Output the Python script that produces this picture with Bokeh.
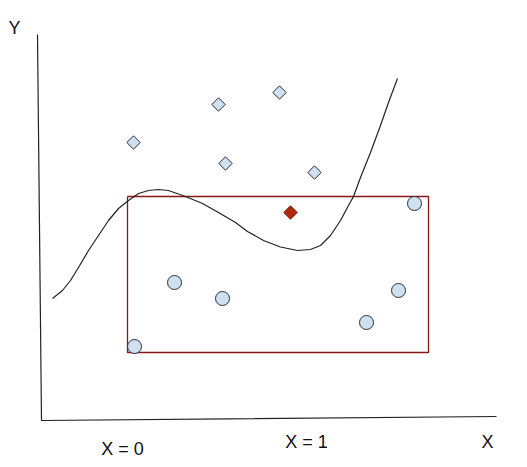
from bokeh.plotting import figure
from bokeh.models import Range1d
from bokeh.core.properties import value
from bokeh.embed import file_html
from bokeh.resources import INLINE
import math

# Diagram coordinates (y grows downward, as in the picture)
axis_x = [37, 41, 496]
axis_y = [34, 420, 416]

diamond_x = [133, 218, 279, 225, 314]
diamond_y = [142, 104, 92, 163, 172]

red_diamond_x = [290]
red_diamond_y = [212]

circle_x = [134, 174, 222, 366, 398, 414]
circle_y = [346, 282, 298, 322, 290, 203]

rect_left, rect_right, rect_top, rect_bottom = 127, 428, 196, 352

curve_x = [52, 62, 70, 78, 88, 98, 108, 118, 128, 138, 148, 158, 168, 185, 202, 218,
           235, 247, 263, 280, 297, 310, 320, 330, 340, 348, 353, 360, 370, 380, 388, 397]
curve_y = [298, 290, 280, 267, 250, 235, 220, 208, 200, 193, 190, 189, 190, 196, 203, 212,
           222, 231, 240, 246.5, 250, 249, 245, 235, 220, 205, 196, 177, 152, 125, 102, 78]

label_text = ["Y", "X = 0", "X = 1", "X"]
label_x = [14, 122, 306, 487]
label_y = [27, 448, 441, 441]

p = figure(width=511, height=458, output_backend="svg", toolbar_location=None,
           x_range=Range1d(0, 511), y_range=Range1d(458, 0),
           x_axis_type=None, y_axis_type=None, min_border=0,
           outline_line_color=None, background_fill_color="white")
p.grid.visible = False

# axes
p.line(axis_x, axis_y, line_color="#222222", line_width=1.2)

# rectangle
p.line([rect_left, rect_right, rect_right, rect_left, rect_left],
       [rect_top, rect_top, rect_bottom, rect_bottom, rect_top],
       line_color="#8a1717", line_width=1.3)

# curve
p.line(curve_x, curve_y, line_color="#222222", line_width=1.2, line_join="round")

# markers
p.scatter(diamond_x, diamond_y, marker="square", size=9.5, angle=math.pi / 4,
          fill_color="#cfe0f1", line_color="#2a2f38", line_width=1)
p.scatter(red_diamond_x, red_diamond_y, marker="square", size=9.5, angle=math.pi / 4,
          fill_color="#b3290e", line_color="#6e1a0a", line_width=1)
p.scatter(circle_x, circle_y, marker="circle", size=14,
          fill_color="#cfe0f1", line_color="#2a2f38", line_width=1)

# labels
p.text(label_x, label_y, text=label_text, text_align="center", text_baseline="middle",
       text_font=value("Liberation Sans"), text_font_size="18px", text_color="#111111")

open("out.html", "w").write(file_html(p, INLINE))
